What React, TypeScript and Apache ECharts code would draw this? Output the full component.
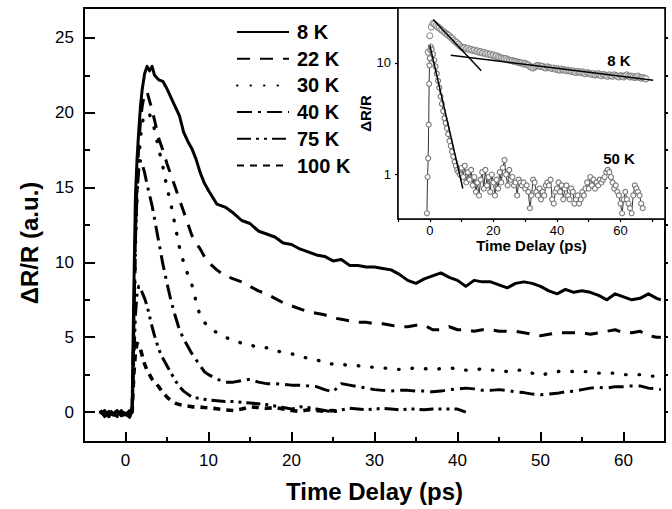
import React, { useEffect, useRef } from 'react';
import * as echarts from 'echarts';

const FONT = '"Liberation Sans", Arial, Helvetica, sans-serif';

// ---------- main panel data ----------
const tMain = [-3, -2.5, -2, -1.5, -1, -0.5, 0, 0.5, 0.8, 1.0, 1.2, 1.4, 1.6, 1.8, 2.0, 2.3, 2.6, 2.9, 3.2, 3.5,
  4.0, 4.5, 5.0, 5.5, 6.0, 6.5, 7.0, 7.5, 8.0, 8.5, 9.0, 9.5,
  10, 11, 12, 13, 14, 15, 16, 17, 18, 19, 20, 21, 22, 23, 24, 25, 26, 27, 28, 29, 30,
  31, 32, 33, 34, 35, 36, 37, 38, 39, 40, 41, 42, 43, 44, 45, 46, 47, 48, 49, 50,
  51, 52, 53, 54, 55, 56, 57, 58, 59, 60, 61, 62, 63, 64, 64.5];

const v8K = [0.1, -0.3, 0.05, -0.2, 0.1, -0.25, -0.1, -0.35, 0.2, 8.0, 14.5, 17.0, 18.8, 20.4, 21.5, 22.6, 23.1, 22.8, 23.1, 22.5,
  22.2, 22.1, 21.6, 21.0, 20.4, 19.8, 18.7, 18.1, 17.6, 16.9, 16.0, 15.3,
  14.8, 13.9, 13.7, 13.3, 12.8, 12.6, 12.1, 11.9, 11.7, 11.3, 11.2,
  10.9, 10.7, 10.5, 10.4, 10.1, 10.2, 9.8, 9.8, 9.7, 9.7,
  9.6, 9.5, 9.2, 8.8, 8.6, 8.9, 9.1, 9.3, 9.0, 8.8,
  8.4, 8.8, 8.7, 8.7, 8.5, 8.3, 8.6, 8.7, 8.6, 8.4,
  8.1, 7.9, 8.2, 8.0, 8.1, 8.0, 7.8, 7.5, 7.9, 7.7,
  7.5, 7.6, 7.9, 7.6, 7.5];

const v22K = [-0.1, 0.1, -0.3, 0.0, -0.2, 0.1, -0.3, -0.1, 0.1, 6.0, 12.0, 15.5, 17.8, 19.4, 20.4, 21.3, 21.4, 20.8, 20.2, 19.5,
  18.3, 17.5, 16.6, 15.8, 15.0, 14.2, 13.4, 12.6, 11.8, 11.3, 10.9, 10.4,
  10.0, 9.5, 9.1, 8.9, 8.7, 8.4, 8.1, 7.9, 7.6, 7.3, 7.1,
  6.9, 6.7, 6.6, 6.5, 6.3, 6.2, 6.1, 6.0, 6.0, 5.9,
  5.9, 5.8, 5.7, 5.7, 5.8, 5.8, 5.5, 5.5, 5.7, 5.5,
  5.5, 5.4, 5.5, 5.5, 5.4, 5.4, 5.4, 5.3, 5.2, 5.1,
  5.2, 5.3, 5.3, 5.3, 5.3, 5.2, 5.3, 5.4, 5.5, 5.3,
  5.3, 5.4, 5.1, 5.0, 5.0];

const v30K = [0.0, -0.2, 0.1, -0.3, 0.0, -0.2, 0.1, -0.2, 0.0, 5.0, 11.0, 14.5, 16.8, 18.3, 19.3, 19.9, 20.0, 19.9, 19.4, 18.9,
  17.6, 16.4, 15.0, 13.8, 12.4, 11.0, 10.0, 9.2, 8.5, 7.4, 6.4, 6.0,
  5.7, 5.3, 5.0, 4.8, 4.6, 4.5, 4.3, 4.3, 4.1, 4.0, 3.9,
  3.7, 3.6, 3.5, 3.3, 3.2, 3.2, 3.1, 3.1, 3.0, 3.0,
  2.95, 2.9, 2.85, 2.9, 2.95, 2.9, 2.85, 2.9, 2.95, 2.9,
  2.8, 2.8, 2.9, 2.8, 2.8, 2.7, 2.8, 2.8, 2.6, 2.45,
  2.6, 2.7, 2.75, 2.7, 2.7, 2.7, 2.6, 2.6, 2.6, 2.5,
  2.5, 2.5, 2.4, 2.4, 2.4];

const v40K = [0.1, -0.2, -0.1, 0.1, -0.3, 0.0, -0.2, 0.1, 0.1, 5.5, 11.5, 14.8, 16.2, 16.8, 16.6, 16.0, 15.2, 14.5, 13.8, 12.9,
  11.4, 9.9, 8.6, 7.4, 6.4, 5.5, 4.9, 4.4, 3.9, 3.5, 3.1, 2.7,
  2.5, 2.2, 2.0, 2.0, 2.1, 2.2, 2.0, 1.9, 1.9, 1.85, 1.8,
  1.8, 1.75, 1.7, 1.5, 1.35, 1.9, 1.8, 1.7, 1.6, 1.5,
  1.45, 1.4, 1.45, 1.45, 1.4, 1.4, 1.35, 1.4, 1.5, 1.55,
  1.6, 1.55, 1.45, 1.45, 1.5, 1.45, 1.35, 1.3, 1.2, 1.15,
  1.2, 1.25, 1.35, 1.4, 1.5, 1.6, 1.65, 1.6, 1.7, 1.7,
  1.75, 1.75, 1.6, 1.55, 1.5];

const v75K = [-0.1, 0.0, -0.3, 0.1, -0.1, -0.2, 0.0, -0.3, 0.1, 3.5, 6.5, 8.0, 8.4, 8.3, 8.0, 7.6, 7.1, 6.4, 5.7, 5.1,
  4.2, 3.6, 3.1, 2.6, 2.1, 1.7, 1.4, 1.2, 1.0, 0.95, 0.9, 0.85,
  0.8, 0.75, 0.7, 0.7, 0.65, 0.6, 0.55, 0.5, 0.4, 0.3, 0.2,
  0.35, 0.3, 0.2, 0.1, 0.0, 0.15, 0.25, 0.2, 0.15, 0.2,
  0.25, 0.2, 0.15, 0.2, 0.2, 0.15, 0.2, 0.2, 0.2, 0.2,
  0.0];

const v100K = [0.0, -0.2, 0.1, -0.1, -0.3, 0.0, -0.1, -0.2, 0.0, 2.5, 4.0, 4.6, 4.5, 4.2, 3.8, 3.2, 2.8, 2.5, 2.2, 2.0,
  1.7, 1.3, 1.0, 0.75, 0.6, 0.5, 0.45, 0.4, 0.35, 0.35, 0.33, 0.3,
  0.28, 0.22, 0.15, 0.1, 0.2, 0.35, 0.3, 0.25, 0.3, 0.2, 0.1,
  0.05, 0.15, 0.1, 0.05, 0.1, 0.0];

const seriesNames = ['8 K', '22 K', '30 K', '40 K', '75 K', '100 K'];

// main axis ticks
const xMajor = [0, 10, 20, 30, 40, 50, 60];
const xMinor = [-5, 5, 15, 25, 35, 45, 55, 65];
const yMajor = [0, 5, 10, 15, 20, 25];
const yMinor = [2.5, 7.5, 12.5, 17.5, 22.5];
const yRight = [0, 2.5, 5, 7.5, 10, 12.5, 15, 17.5, 20, 22.5, 25];

// ---------- inset data ----------
const tInset8K = [-0.5, 0, 0.5, 1, 1.5, 2, 2.5, 3, 3.5, 4,
  4.5, 5, 5.5, 6, 6.5, 7, 7.5, 8, 8.5, 9,
  9.5, 10, 10.5, 11, 11.5, 12, 12.5, 13, 13.5, 14,
  14.5, 15, 15.5, 16, 16.5, 17, 17.5, 18, 18.5, 19,
  19.5, 20, 20.5, 21, 21.5, 22, 22.5, 23, 23.5, 24,
  24.5, 25, 25.5, 26, 26.5, 27, 27.5, 28, 28.5, 29,
  29.5, 30, 30.5, 31, 31.5, 32, 32.5, 33, 33.5, 34,
  34.5, 35, 35.5, 36, 36.5, 37, 37.5, 38, 38.5, 39,
  39.5, 40, 40.5, 41, 41.5, 42, 42.5, 43, 43.5, 44,
  44.5, 45, 45.5, 46, 46.5, 47, 47.5, 48, 48.5, 49,
  49.5, 50, 50.5, 51, 51.5, 52, 52.5, 53, 53.5, 54,
  54.5, 55, 55.5, 56, 56.5, 57, 57.5, 58, 58.5, 59,
  59.5, 60, 60.5, 61, 61.5, 62, 62.5, 63, 63.5, 64,
  64.5, 65, 65.5, 66, 66.5, 67, 67.5, 68];
const vInset8K = [12.5, 17.5, 21.0, 22.5, 22.3, 21.6, 21.0, 20.6, 19.9, 19.5,
  18.9, 18.5, 18.0, 17.6, 17.0, 16.6, 16.0, 15.5, 15.2, 14.7,
  14.2, 13.8, 13.6, 13.7, 13.4, 13.5, 13.1, 13.2, 12.9, 13.0,
  12.7, 12.8, 12.5, 12.6, 12.3, 12.4, 12.1, 12.2, 11.9, 12.0,
  11.7, 11.8, 11.5, 11.6, 11.3, 11.2, 11.1, 11.0, 10.9, 10.9,
  10.7, 10.6, 10.5, 10.5, 10.3, 10.3, 10.2, 10.1, 10.0, 10.0,
  9.8, 9.9, 9.7, 9.6, 9.3, 9.1, 9.0, 9.2, 9.4, 9.5,
  9.4, 9.3, 9.3, 9.1, 9.0, 9.2, 9.1, 9.0, 8.9, 9.0,
  8.8, 8.9, 8.7, 8.6, 8.8, 8.7, 8.6, 8.5, 8.6, 8.5,
  8.4, 8.5, 8.3, 8.2, 8.4, 8.3, 8.2, 8.3, 8.1, 8.0,
  8.2, 8.1, 8.0, 7.9, 8.0, 7.8, 7.9, 8.0, 7.8, 7.7,
  7.9, 7.8, 7.7, 7.6, 7.8, 7.7, 7.6, 7.8, 7.7, 7.6,
  7.5, 7.7, 7.6, 7.5, 7.7, 7.8, 7.6, 7.5, 7.6, 7.5,
  7.4, 7.5, 7.6, 7.4, 7.3, 7.4, 7.3, 7.2];

const tInset50K = [-0.9, -0.7, -0.5, -0.35, -0.2, -0.1, 0, 0.15, 0.3,
  0.6, 1.0, 1.4, 1.8, 2.2, 2.6, 3.0, 3.4, 3.8, 4.2, 4.6, 5.0, 5.4, 5.8, 6.2, 6.6, 7.0, 7.4, 7.8, 8.2, 8.6, 9.0,
  9.5, 10, 10.5, 11, 11.5, 12, 12.5, 13, 13.5, 14,
  14.5, 15, 15.5, 16, 16.5, 17, 17.5, 18, 18.5, 19,
  19.5, 20, 20.5, 21, 21.5, 22, 22.5, 23, 23.5, 24,
  24.5, 25, 25.5, 26, 26.5, 27, 27.5, 28, 28.5, 29,
  29.5, 30, 30.5, 31, 31.5, 32, 32.5, 33, 33.5, 34,
  34.5, 35, 35.5, 36, 36.5, 37, 37.5, 38, 38.5, 39,
  39.5, 40, 40.5, 41, 41.5, 42, 42.5, 43, 43.5, 44,
  44.5, 45, 45.5, 46, 46.5, 47, 47.5, 48, 48.5, 49,
  49.5, 50, 50.5, 51, 51.5, 52, 52.5, 53, 53.5, 54,
  54.5, 55, 55.5, 56, 56.5, 57, 57.5, 58, 58.5, 59,
  59.5, 60, 60.5, 61, 61.5, 62, 62.5, 63, 63.5, 64,
  64.5, 65, 65.5, 66, 66.5, 67];
const vInset50K = [0.45, 0.95, 1.4, 2.8, 6.5, 9.5, 11.0, 13.0, 14.0,
  13.2, 12.0, 10.6, 9.3, 8.0, 6.9, 6.0, 5.0, 4.3, 3.7, 3.2, 2.9, 2.6, 2.3, 2.0, 1.8, 1.6, 1.45, 1.3, 1.2, 1.1, 1.05,
  1.0, 1.15, 0.95, 1.2, 0.85, 1.05, 0.9, 1.1, 0.8, 0.95,
  0.7, 0.85, 0.65, 0.9, 1.05, 0.75, 1.1, 0.8, 0.95, 0.7,
  1.0, 0.85, 0.65, 0.9, 0.75, 1.05, 0.85, 1.15, 1.35, 1.0,
  0.8, 1.1, 0.9, 0.95, 0.8, 0.85, 0.65, 0.9, 0.85, 0.8,
  0.85, 0.75, 0.8, 0.7, 0.5, 0.65, 0.9, 0.85, 0.7, 0.65,
  0.75, 0.6, 0.7, 0.65, 0.8, 0.85, 0.8, 0.9, 0.6, 0.55,
  0.7, 0.75, 0.85, 0.7, 0.8, 0.6, 0.75, 0.8, 0.65, 0.6,
  0.75, 0.7, 0.55, 0.6, 0.65, 0.55, 0.6, 0.7, 0.65, 0.75,
  0.85, 0.75, 0.95, 0.8, 0.9, 0.75, 0.85, 0.8, 0.9, 0.85,
  0.9, 0.95, 1.05, 1.1, 1.05, 0.95, 0.85, 0.75, 0.8, 0.7,
  0.65, 0.55, 0.45, 0.6, 0.7, 0.6, 0.55, 0.5, 0.45, 0.65,
  0.8, 0.75, 0.7, 0.65, 0.55, 0.5];

// exponential fits (end points)
const fit8FastT = [1.06, 16.2];
const fit8FastV = [24.5, 8.5];
const fit8SlowT = [6.6, 70.3];
const fit8SlowV = [11.7, 7.0];
const fit50T = [0, 10.4];
const fit50V = [14.4, 0.75];

const insetXMajor = [0, 20, 40, 60];
const insetXTicks = [-10, 0, 10, 20, 30, 40, 50, 60, 70];
const insetYTicks = [1, 10];
const insetYMinor = [0.5, 0.6, 0.7, 0.8, 0.9, 2, 3, 4, 5, 6, 7, 8, 9, 20, 30];

const zip = (xs: number[], ys: number[]) => ys.map((y, i) => [xs[i], y]);

const mainStyles: any[] = [
  { type: 'solid', width: 3 },
  { type: [13, 10], width: 3 },
  { type: [0.5, 13], width: 3.4, cap: 'round' },
  { type: [15, 6, 3, 6], width: 3 },
  { type: [14, 5, 3, 5, 3, 5], width: 3 },
  { type: [7, 6], width: 3.6 },
];
const mainValues = [v8K, v22K, v30K, v40K, v75K, v100K];

const blackLine = { color: '#000', width: 2 };
const tickText = { color: '#000', fontFamily: FONT };

function buildOption(): any {
  const mainSeries = seriesNames.map((name, i) => ({
    name,
    type: 'line',
    xAxisIndex: 0,
    yAxisIndex: 0,
    data: zip(tMain, mainValues[i]),
    symbol: 'none',
    showSymbol: false,
    lineStyle: { color: '#000', join: 'round', ...mainStyles[i] },
    itemStyle: { color: '#000' },
    z: 3,
  }));

  const circleStyle = { color: '#fff', borderColor: '#777', borderWidth: 1.1 };

  const insetSeries = [
    {
      name: '8 K inset', type: 'scatter', xAxisIndex: 2, yAxisIndex: 3,
      data: zip(tInset8K, vInset8K), symbol: 'circle', symbolSize: 6, itemStyle: circleStyle, z: 4,
    },
    {
      name: '50 K inset', type: 'line', xAxisIndex: 2, yAxisIndex: 3,
      data: zip(tInset50K, vInset50K), symbol: 'circle', symbolSize: 5, showSymbol: true,
      lineStyle: { color: '#000', width: 0.8 }, itemStyle: circleStyle, z: 4,
    },
    {
      name: 'fit 8 K fast', type: 'line', xAxisIndex: 2, yAxisIndex: 3,
      data: zip(fit8FastT, fit8FastV), symbol: 'none', lineStyle: { color: '#000', width: 1.5 }, z: 6,
    },
    {
      name: 'fit 8 K slow', type: 'line', xAxisIndex: 2, yAxisIndex: 3,
      data: zip(fit8SlowT, fit8SlowV), symbol: 'none', lineStyle: { color: '#000', width: 1.5 }, z: 6, clip: false,
    },
    {
      name: 'fit 50 K', type: 'line', xAxisIndex: 2, yAxisIndex: 3,
      data: zip(fit50T, fit50V), symbol: 'none', lineStyle: { color: '#000', width: 1.5 }, z: 6,
    },
  ];

  return {
    animation: false,
    backgroundColor: '#fff',
    textStyle: { fontFamily: FONT },
    grid: [
      { left: 84, right: 7, top: 8, bottom: 67, show: true, borderColor: '#000', borderWidth: 2, backgroundColor: 'transparent', outerBoundsMode: 'none' },
      { left: 398, right: 7, top: 8, bottom: 290, show: true, borderColor: '#000', borderWidth: 1.5, backgroundColor: '#fff', z: 1, outerBoundsMode: 'none' },
    ],
    legend: {
      data: seriesNames,
      orient: 'vertical',
      left: 231,
      top: 17,
      itemWidth: 52,
      itemHeight: 20,
      itemGap: 6.7,
      selectedMode: false,
      itemStyle: { opacity: 0, borderWidth: 0 },
      textStyle: { fontSize: 20, fontWeight: 'bold', color: '#000', fontFamily: FONT, lineHeight: 20, padding: [0, 0, 0, 3] },
    },
    xAxis: [
      {
        gridIndex: 0, type: 'value', position: 'bottom', min: -5, max: 65,
        axisLine: { show: true, onZero: false, lineStyle: blackLine },
        axisTick: { show: true, inside: true, length: 10, lineStyle: blackLine, customValues: xMajor },
        axisLabel: { show: true, customValues: xMajor, fontSize: 17, margin: 10, ...tickText },
        splitLine: { show: false },
        name: 'Time Delay (ps)', nameLocation: 'middle', nameGap: 37,
        nameTextStyle: { fontSize: 24, fontWeight: 'bold', color: '#000', fontFamily: FONT },
      },
      {
        gridIndex: 0, type: 'value', position: 'bottom', min: -5, max: 65,
        axisLine: { show: false, onZero: false },
        axisTick: { show: true, inside: true, length: 5, lineStyle: blackLine, customValues: xMinor },
        axisLabel: { show: false },
        splitLine: { show: false },
      },
      {
        gridIndex: 1, type: 'value', position: 'bottom', min: -10, max: 74,
        axisLine: { show: true, onZero: false, lineStyle: { color: '#000', width: 1.5 } },
        axisTick: { show: true, inside: false, length: 3, lineStyle: { color: '#000', width: 1.2 }, customValues: insetXTicks },
        axisLabel: { show: true, customValues: insetXMajor, fontSize: 13, margin: 5, ...tickText },
        splitLine: { show: false },
        name: 'Time Delay (ps)', nameLocation: 'middle', nameGap: 19,
        nameTextStyle: { fontSize: 15, fontWeight: 'bold', color: '#000', fontFamily: FONT },
      },
    ],
    yAxis: [
      {
        gridIndex: 0, type: 'value', position: 'left', min: -2, max: 27,
        axisLine: { show: true, onZero: false, lineStyle: blackLine },
        axisTick: { show: true, inside: true, length: 11, lineStyle: blackLine, customValues: yMajor },
        axisLabel: { show: true, customValues: yMajor, fontSize: 17, margin: 10, ...tickText },
        splitLine: { show: false },
      },
      {
        gridIndex: 0, type: 'value', position: 'left', min: -2, max: 27,
        axisLine: { show: false, onZero: false },
        axisTick: { show: true, inside: true, length: 6, lineStyle: blackLine, customValues: yMinor },
        axisLabel: { show: false },
        splitLine: { show: false },
      },
      {
        gridIndex: 0, type: 'value', position: 'right', min: -2, max: 27,
        axisLine: { show: true, onZero: false, lineStyle: blackLine },
        axisTick: { show: true, inside: false, length: 3, lineStyle: blackLine, customValues: yRight },
        axisLabel: { show: false },
        splitLine: { show: false },
      },
      {
        gridIndex: 1, type: 'log', logBase: 10, position: 'left', min: 0.4, max: 31,
        axisLine: { show: true, onZero: false, lineStyle: { color: '#000', width: 1.5 } },
        axisTick: { show: true, inside: false, length: 3, lineStyle: { color: '#000', width: 1.2 }, customValues: insetYTicks },
        axisLabel: { show: true, customValues: insetYTicks, fontSize: 13, margin: 7, ...tickText },
        splitLine: { show: false },
        name: 'ΔR/R', nameLocation: 'middle', nameGap: 20,
        nameTextStyle: { fontSize: 15, fontWeight: 'bold', color: '#000', fontFamily: FONT },
      },
      {
        gridIndex: 1, type: 'log', logBase: 10, position: 'left', min: 0.4, max: 31,
        axisLine: { show: false, onZero: false },
        axisTick: { show: true, inside: true, length: 3, lineStyle: { color: '#000', width: 1 }, customValues: insetYMinor },
        axisLabel: { show: false },
        splitLine: { show: false },
      },
    ],
    graphic: [
      {
        type: 'text', x: 29, y: 243, rotation: Math.PI / 2,
        style: { text: 'ΔR/R (a.u.)', font: `bold 24px ${FONT}`, fill: '#000', align: 'center', verticalAlign: 'middle' },
      },
      {
        type: 'text', x: 619, y: 60, z: 100,
        style: { text: '8 K', font: `bold 15px ${FONT}`, fill: '#000', align: 'center', verticalAlign: 'middle' },
      },
      {
        type: 'text', x: 619, y: 158, z: 100,
        style: { text: '50 K', font: `bold 15px ${FONT}`, fill: '#000', align: 'center', verticalAlign: 'middle' },
      },
    ],
    series: [...mainSeries, ...insetSeries],
  };
}

export default function App() {
  const ref = useRef<HTMLDivElement>(null);
  useEffect(() => {
    document.body.style.margin = '0';
    const chart = echarts.init(ref.current as HTMLDivElement, null, { renderer: 'svg' });
    chart.setOption(buildOption());
    return () => chart.dispose();
  }, []);
  return <div ref={ref} style={{ width: 672, height: 509 }} />;
}
